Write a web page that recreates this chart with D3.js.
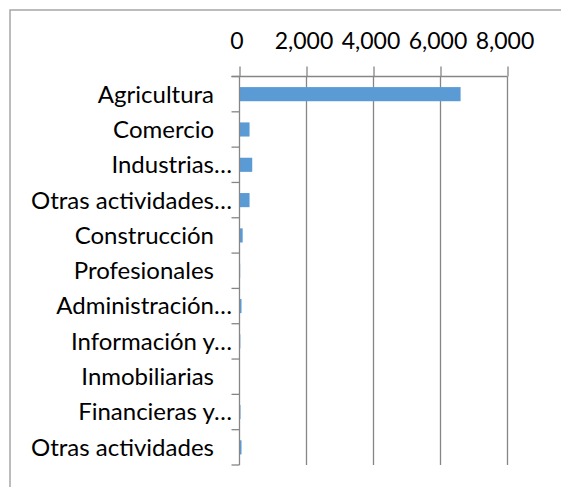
<!DOCTYPE html>
<html><head><meta charset="utf-8">
<script src="https://cdn.jsdelivr.net/npm/d3@7"></script>
<style>
html,body{margin:0;padding:0;background:#fff;overflow:hidden}
text{font-family:Lato,"Open Sans",sans-serif;fill:#000}
</style></head><body>
<svg id="c" width="561" height="487"></svg>
<script>
const categories = ["Agricultura","Comercio","Industrias…","Otras actividades…","Construcción","Profesionales","Administración…","Información y…","Inmobiliarias","Financieras y…","Otras actividades"];
const values = [6600,300,380,300,95,20,60,25,5,30,60];
const tickValues = [0,2000,4000,6000,8000];

(function(){
const svg = d3.select("#c");
const W = 561, H = 487;
const pLeft = 239.5, pRight = 507.5, pTop = 76.5, pBottom = 465;
const fontSize = 24;
const tickFont = 23;
const axisColor = "#868686";

// outer frame
svg.append("rect").attr("x",10).attr("y",10).attr("width",W+20).attr("height",H+20)
  .attr("fill","none").attr("stroke","#a6a6a6").attr("stroke-width",1.5);

const x = d3.scaleLinear().domain([0,8000]).range([pLeft,pRight]);
const y = d3.scaleBand().domain(categories).range([pTop,pBottom]).paddingInner(0.6).paddingOuter(0.3);
const yb = d3.scaleBand().domain(categories).range([pTop,pBottom]);

// gridlines
svg.append("g").selectAll("line").data(tickValues.slice(1)).join("line")
  .attr("x1",d=>x(d)).attr("x2",d=>x(d)).attr("y1",pTop).attr("y2",pBottom)
  .attr("stroke",axisColor).attr("stroke-width",1.3);

// top axis
const xa = d3.axisTop(x).tickValues(tickValues).tickSize(10).tickFormat(d3.format(","));
const gx = svg.append("g").attr("transform",`translate(0,${pTop})`).call(xa);
gx.select(".domain").attr("stroke",axisColor).attr("stroke-width",1.3).attr("d",`M${pLeft-8},0H${pRight}`);
gx.selectAll(".tick line").attr("stroke",axisColor).attr("stroke-width",1.3);
gx.selectAll(".tick text").attr("font-size",tickFont).attr("font-family","Lato").attr("fill","#000")
  .attr("y",-28).attr("dx",-3);

// bars
svg.append("g").selectAll("rect").data(values).join("rect")
  .attr("x",x(0)).attr("y",(d,i)=>y(categories[i]))
  .attr("width",d=>x(d)-x(0)).attr("height",y.bandwidth())
  .attr("fill","#5b9bd5");

// left axis line + ticks at band boundaries
svg.append("line").attr("x1",pLeft).attr("x2",pLeft).attr("y1",pTop).attr("y2",pBottom)
  .attr("stroke",axisColor).attr("stroke-width",1.3);
const bounds = categories.map(c=>yb(c)).concat([pBottom]);
svg.append("g").selectAll("line").data(bounds).join("line")
  .attr("x1",pLeft-8).attr("x2",pLeft).attr("y1",d=>d).attr("y2",d=>d)
  .attr("stroke",axisColor).attr("stroke-width",1.3);

// category labels
svg.append("g").selectAll("text").data(categories).join("text")
  .attr("x",d=>d.endsWith("…")?232:214)
  .attr("y",d=>yb(d)+yb.bandwidth()/2)
  .attr("dy","0.35em")
  .attr("text-anchor","end")
  .attr("font-size",fontSize)
  .text(d=>d);
})();
</script></body></html>
